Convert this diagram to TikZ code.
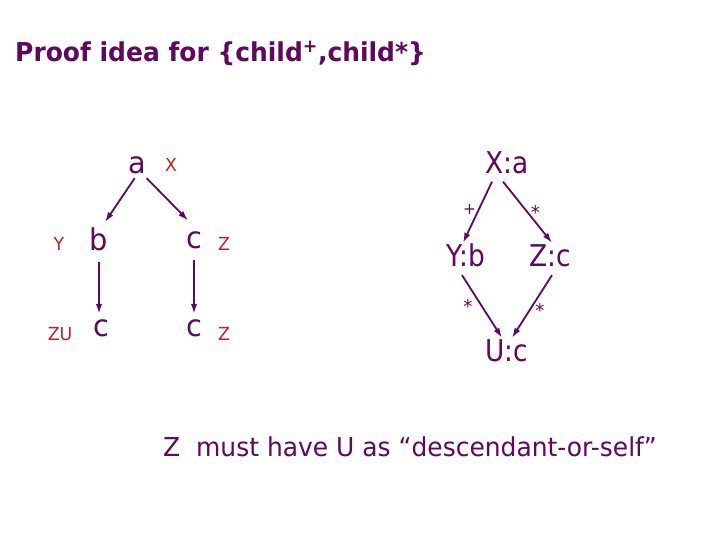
\documentclass[tikz,border=0pt]{standalone}
\usepackage{fontspec}
\setmainfont{DejaVu Sans}[FakeStretch=0.96]
\newfontfamily\patfont{DejaVu Sans}[FakeStretch=0.88]
\usepackage{xcolor}
\usetikzlibrary{arrows.meta}

\definecolor{ink}{RGB}{94,8,94}
\definecolor{varred}{RGB}{196,30,36}

\begin{document}
\begin{tikzpicture}[x=1pt, y=-1pt, line width=1.8pt,
	tip/.style={-{Latex[length=10pt,width=6.5pt]}, ink},
	tree/.style={font=\fontsize{30}{30}\selectfont, text=ink, inner sep=0pt, anchor=base, text height=27pt, text depth=4pt},
	pat/.style={font=\patfont\fontsize{30}{30}\selectfont, text=ink, inner sep=0pt, anchor=base, text height=23pt, text depth=7.5pt},
	var/.style={font=\fontsize{18}{18}\selectfont, text=varred, inner sep=0pt, anchor=base},
	axis/.style={font=\fontsize{19}{19}\selectfont, text=ink, inner sep=0pt}]
	%\draw[help lines] (0,0) grid[step=20] (720,540);
	\useasboundingbox (0,0) rectangle (720,540);

	\node (title) [anchor=base west, font=\fontsize{26}{26}\selectfont\bfseries, text=ink] at (11,62) {Proof idea for \{child\textsuperscript{+},child*\}};

	% the document tree
	\node (a) [tree] at (137.7,173.3) {a};
	\node (b) [tree] at (99,250) {b};
	\node (c1) [tree] at (194,248.3) {c};
	\node (c2) [tree] at (101,336.7) {c};
	\node (c3) [tree] at (194,336.7) {c};
	\node (vx) [var] at (171,171.7) {X};
	\node (vy) [var] at (59,250.7) {Y};
	\node (vz1) [var] at (224,250) {Z};
	\node (vzu) [var] at (60,340) {ZU};
	\node (vz2) [var] at (224,340) {Z};

	\draw [tip] ([xshift=-3pt]a.south) -- ([xshift=6pt]b.north);
	\draw [tip] ([xshift=9pt]a.south) -- ([xshift=-6pt]c1.north);
	\draw [tip] ([yshift=-7pt]b.south) -- ([xshift=-2pt,yshift=-5pt]c2.north);
	\draw [tip] ([yshift=-7pt]c1.south) -- ([yshift=-5pt]c3.north);

	% the pattern
	\node (x) [pat] at (507,173.3) {X:a};
	\node (y) [pat] at (466,266.7) {Y:b};
	\node (z) [pat] at (550,266.7) {Z:c};
	\node (u) [pat] at (507,361.7) {U:c};

	\draw [tip] ([xshift=-15pt]x.south) to node [axis, font=\fontsize{16}{16}\selectfont, xshift=-8pt, yshift=3pt] {+} ([xshift=-3pt]y.north);
	\draw [tip] ([xshift=-4pt]x.south) to node [axis, xshift=8pt] {*} ([xshift=2pt]z.north);
	\draw [tip] ([xshift=-4pt]y.south) to node [axis, xshift=-14pt] {*} ([xshift=-5pt]u.north);
	\draw [tip] ([xshift=2pt]z.south) to node [axis, xshift=8pt, yshift=-4pt] {*} ([xshift=5pt]u.north);

	\node (claim) [anchor=base west, font=\fontsize{26}{26}\selectfont, text=ink] at (159,456) {Z\ \ must have U as “descendant-or-self”};
\end{tikzpicture}
\end{document}
